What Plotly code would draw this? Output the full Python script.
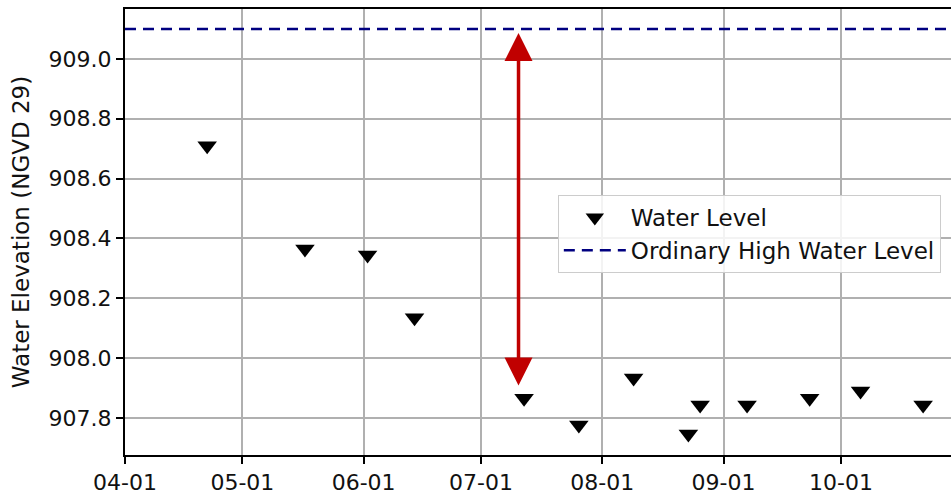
import plotly.graph_objects as go

# Data
dates = ["2019-04-22", "2019-05-17", "2019-06-02", "2019-06-14", "2019-07-12",
         "2019-07-26", "2019-08-09", "2019-08-23", "2019-08-26", "2019-09-07",
         "2019-09-23", "2019-10-06", "2019-10-22"]
levels = [908.71, 908.365, 908.345, 908.135, 907.866, 907.776, 907.933,
          907.746, 907.843, 907.843, 907.866, 907.89, 907.843]
ohwl = 909.10
x_range = ["2019-04-01", "2019-10-29 03:00"]
y_range = [907.676, 909.167]
arrow_date = "2019-07-10 14:00"
arrow_top = 909.087
arrow_bottom = 907.903
tick_vals = ["2019-04-01", "2019-05-01", "2019-06-01", "2019-07-01",
             "2019-08-01", "2019-09-01", "2019-10-01"]
tick_text = ["04-01", "05-01", "06-01", "07-01", "08-01", "09-01", "10-01"]

FONT = "DejaVu Sans"
TXT = "#111111"

fig = go.Figure()
fig.add_trace(go.Scatter(
    x=dates, y=levels, mode="markers", name="Water Level",
    marker=dict(symbol="triangle-down", size=17, color="black"),
))
fig.add_trace(go.Scatter(
    x=x_range, y=[ohwl, ohwl], mode="lines", name="Ordinary High Water Level",
    line=dict(color="#000080", width=2.5, dash="11px,7px"),
))

fig.add_annotation(
    x=arrow_date, y=arrow_top, ax=arrow_date, ay=arrow_bottom,
    xref="x", yref="y", axref="x", ayref="y",
    showarrow=True, arrowhead=2, startarrowhead=2, arrowside="end+start",
    arrowsize=1.6, startarrowsize=1.6, arrowwidth=3.5, arrowcolor="#c00000",
    text="",
)

fig.update_layout(
    width=951, height=497,
    margin=dict(l=125, r=0, t=9, b=42),
    paper_bgcolor="white", plot_bgcolor="white",
    font=dict(family=FONT, size=22, color=TXT),
    legend=dict(
        x=0.524, y=0.583, xanchor="left", yanchor="top",
        bgcolor="rgba(255,255,255,0.85)", bordercolor="#cccccc", borderwidth=1,
        font=dict(family=FONT, size=23, color=TXT),
        itemwidth=62,
        tracegroupgap=0,
    ),
    showlegend=True,
)
fig.update_xaxes(
    type="date", range=x_range, tickvals=tick_vals, ticktext=tick_text,
    showgrid=True, gridcolor="#b0b0b0", gridwidth=1.5,
    showline=True, linecolor="black", linewidth=2, mirror=True,
    ticks="outside", ticklen=7, tickwidth=1.5, tickcolor="black",
    tickfont=dict(family=FONT, size=22, color=TXT),
    zeroline=False,
)
fig.update_yaxes(
    range=y_range, tickvals=[907.8, 908.0, 908.2, 908.4, 908.6, 908.8, 909.0],
    tickformat=".1f",
    showgrid=True, gridcolor="#b0b0b0", gridwidth=1.5,
    showline=True, linecolor="black", linewidth=2,
    ticks="outside", ticklen=7, tickwidth=1.5, tickcolor="black",
    tickfont=dict(family=FONT, size=22, color=TXT),
    title=dict(text="Water Elevation (NGVD 29)", font=dict(family=FONT, size=23, color=TXT), standoff=13),
    zeroline=False,
)

fig.write_html("out.html")
